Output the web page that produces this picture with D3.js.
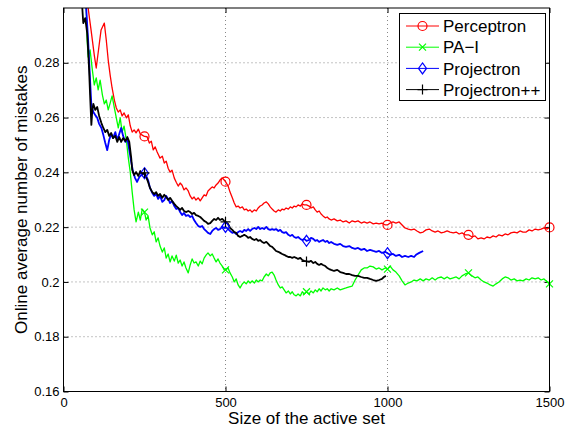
<!DOCTYPE html>
<html>
<head>
<meta charset="utf-8">
<script src="https://cdn.jsdelivr.net/npm/d3@7"></script>
<style>
  body { margin: 0; background: #fff; }
  svg { display: block; font-family: "Liberation Sans", Arial, Helvetica, sans-serif; }
</style>
</head>
<body>
<div id="chart"></div>
<script>
// values
var seriesNames = ["Perceptron", "PA\u2212I", "Projectron", "Projectron++"];
var seriesColors = ["#ff0000", "#00ff00", "#0000ff", "#000000"];
var markerX = [250, 500, 750, 1000, 1250, 1500];
var xTicks = [0, 500, 1000, 1500];
var yTicks = [0.16, 0.18, 0.2, 0.22, 0.24, 0.26, 0.28];

var perceptron = [
  [70,0.3029],[76,0.300],[85,0.292],[95,0.2828],[101,0.2781],[110,0.2865],[116,0.292],[126,0.2945],
  [132,0.2883],[138,0.281],[144,0.2755],[150,0.2708],[157,0.2664],[163,0.2635],[169,0.262],[175,0.2628],
  [181,0.2606],[187,0.2617],[194,0.2599],[200,0.261],[206,0.257],[212,0.2547],[218,0.2555],[224,0.2544],
  [231,0.2558],[237,0.254],[243,0.2536],[250,0.2531],[258,0.253],[265,0.2507],[271,0.2514],[277,0.2482],
  [283,0.2493],[289,0.2474],[298,0.2452],[305,0.2459],[311,0.2434],[317,0.2441],[323,0.2415],[329,0.2401],
  [335,0.2408],[342,0.2379],[348,0.2364],[354,0.235],[360,0.2361],[366,0.2353],[372,0.2336],[378,0.2343],
  [385,0.2332],[391,0.2314],[397,0.2303],[403,0.231],[409,0.2299],[416,0.2307],[422,0.2296],[428,0.2307],
  [434,0.2318],[440,0.2314],[446,0.2332],[453,0.234],[459,0.2347],[465,0.2343],[471,0.2354],[477,0.2361],
  [483,0.2372],[490,0.238],[496,0.2372],[500,0.2366],[508,0.235],[514,0.2328],[521,0.2307],[527,0.2288],
  [533,0.2274],[539,0.2277],[545,0.227],[552,0.2274],[558,0.2263],[564,0.2266],[570,0.2259],[576,0.2263],
  [582,0.2255],[589,0.2263],[595,0.2259],[601,0.227],[607,0.2277],[613,0.2281],[619,0.2288],[626,0.2292],
  [632,0.2285],[638,0.2274],[644,0.2266],[650,0.2259],[656,0.2255],[663,0.2263],[669,0.2259],[675,0.2266],
  [681,0.2263],[687,0.227],[694,0.2266],[700,0.2274],[706,0.227],[712,0.2277],[718,0.2274],[724,0.2281],
  [731,0.2277],[737,0.2285],[743,0.2281],[750,0.2281],[758,0.2277],[764,0.227],[771,0.2274],[777,0.2263],
  [783,0.2255],[789,0.2259],[795,0.2248],[801,0.2241],[808,0.2234],[814,0.2237],[820,0.223],[826,0.2226],
  [835,0.223],[845,0.2223],[854,0.2226],[863,0.2219],[872,0.2223],[882,0.2215],[891,0.2223],[900,0.2219],
  [909,0.2223],[919,0.2215],[928,0.2219],[937,0.2215],[946,0.2219],[956,0.2212],[965,0.2215],[974,0.2212],
  [983,0.2215],[993,0.2208],[1000,0.2208],[1008,0.2215],[1017,0.2219],[1026,0.2215],[1036,0.2219],[1045,0.2208],
  [1054,0.2197],[1064,0.2193],[1073,0.219],[1082,0.2193],[1091,0.2186],[1101,0.2179],[1110,0.2182],[1119,0.219],
  [1129,0.2193],[1138,0.2186],[1147,0.2182],[1156,0.2186],[1166,0.2179],[1175,0.2182],[1184,0.2186],[1193,0.2182],
  [1203,0.2179],[1212,0.2182],[1221,0.2175],[1230,0.2179],[1240,0.2172],[1250,0.2172],[1261,0.2164],[1270,0.2168],
  [1279,0.2157],[1289,0.2161],[1298,0.2157],[1307,0.2164],[1317,0.2161],[1326,0.2168],[1335,0.2164],[1344,0.2172],
  [1354,0.2168],[1363,0.2175],[1372,0.2172],[1381,0.2179],[1391,0.2182],[1400,0.2179],[1409,0.2186],[1418,0.2182],
  [1428,0.2182],[1437,0.219],[1446,0.2186],[1456,0.2193],[1465,0.219],[1474,0.2193],[1483,0.2197],[1493,0.2193],
  [1500,0.2199]
];

var paI = [
  [64,0.3029],[70,0.300],[73,0.2883],[76,0.2821],[82,0.2847],[89,0.2774],[95,0.2719],[101,0.2745],
  [107,0.2701],[113,0.2737],[120,0.2683],[126,0.265],[132,0.2664],[138,0.2628],[144,0.2653],[150,0.2679],
  [157,0.2635],[163,0.2599],[169,0.2562],[175,0.2599],[181,0.2547],[187,0.2569],[194,0.2518],[200,0.2453],
  [206,0.2401],[212,0.2328],[218,0.2263],[224,0.2219],[231,0.2255],[237,0.2226],[243,0.2266],[250,0.2255],
  [255,0.2226],[261,0.2241],[267,0.2197],[274,0.2172],[280,0.2183],[286,0.2146],[292,0.2161],[298,0.2131],
  [305,0.2109],[311,0.2124],[317,0.2087],[323,0.2102],[329,0.2073],[335,0.2095],[342,0.2076],[348,0.2098],
  [354,0.2069],[360,0.208],[366,0.2058],[372,0.2073],[378,0.2051],[385,0.2033],[391,0.2062],[397,0.2084],
  [403,0.2069],[409,0.2073],[416,0.2058],[422,0.2076],[428,0.2066],[434,0.2087],[440,0.2098],[446,0.2106],
  [453,0.2095],[459,0.2102],[465,0.2087],[471,0.2073],[477,0.2084],[483,0.2069],[490,0.2058],[496,0.2044],
  [500,0.2044],[508,0.2051],[514,0.2033],[521,0.2018],[527,0.2],[533,0.2011],[539,0.1989],[545,0.1978],
  [552,0.1993],[558,0.2],[564,0.1993],[570,0.2004],[576,0.1996],[582,0.2004],[589,0.1996],[595,0.2007],
  [601,0.2],[607,0.2007],[613,0.2004],[619,0.2018],[626,0.2029],[632,0.2022],[638,0.2033],[644,0.2036],
  [650,0.2025],[656,0.2007],[663,0.1989],[669,0.1978],[675,0.1982],[681,0.1971],[687,0.196],[694,0.1967],
  [700,0.1956],[706,0.1964],[712,0.1953],[718,0.1949],[724,0.1956],[731,0.1949],[737,0.1964],[743,0.1956],
  [750,0.1964],[758,0.1956],[764,0.1967],[771,0.196],[777,0.1971],[783,0.1964],[789,0.1975],[795,0.1967],
  [801,0.1978],[808,0.1971],[814,0.1975],[820,0.1967],[826,0.1975],[835,0.1971],[845,0.1978],[854,0.1971],
  [863,0.1975],[872,0.1978],[882,0.1982],[891,0.1985],[900,0.2007],[909,0.2025],[919,0.2044],[928,0.2051],
  [937,0.2051],[946,0.2058],[956,0.2055],[965,0.2047],[974,0.2051],[983,0.2044],[993,0.2051],[1000,0.2047],
  [1008,0.2058],[1017,0.2044],[1026,0.2036],[1036,0.2022],[1045,0.2004],[1054,0.1989],[1064,0.1996],[1073,0.2],
  [1082,0.2007],[1091,0.2004],[1101,0.2011],[1110,0.2004],[1119,0.2011],[1129,0.2007],[1138,0.2015],[1147,0.2007],
  [1156,0.2015],[1166,0.2018],[1175,0.2011],[1184,0.2018],[1193,0.2011],[1203,0.2015],[1212,0.2018],[1221,0.2011],
  [1230,0.2022],[1240,0.2029],[1250,0.2033],[1261,0.2022],[1270,0.2015],[1279,0.2018],[1289,0.2007],[1298,0.2],
  [1307,0.1996],[1317,0.1989],[1326,0.1985],[1335,0.1993],[1344,0.2],[1354,0.2011],[1363,0.2018],[1372,0.2015],
  [1381,0.2007],[1391,0.2011],[1400,0.2004],[1409,0.2007],[1418,0.2004],[1428,0.2011],[1437,0.2007],[1446,0.2015],
  [1456,0.2011],[1465,0.2015],[1474,0.2007],[1483,0.2011],[1493,0.2],[1500,0.1993]
];

var projectron = [
  [61,0.3029],[70,0.300],[76,0.2883],[82,0.2737],[86,0.2646],[92,0.262],[98,0.2609],[104,0.2599],
  [110,0.2577],[117,0.2562],[123,0.2536],[129,0.2507],[135,0.2481],[141,0.2518],[147,0.254],[153,0.2525],
  [160,0.2547],[166,0.2518],[172,0.254],[178,0.2562],[184,0.2533],[191,0.2511],[197,0.2525],[203,0.2481],
  [209,0.2438],[215,0.2401],[221,0.2379],[227,0.2365],[234,0.2383],[240,0.239],[250,0.2397],[255,0.2387],
  [261,0.2372],[267,0.2343],[274,0.2325],[280,0.2314],[286,0.2321],[292,0.2303],[298,0.2314],[305,0.2292],
  [311,0.2299],[317,0.2314],[323,0.2303],[329,0.2288],[335,0.2296],[342,0.2277],[348,0.2266],[354,0.227],
  [360,0.2255],[366,0.2244],[372,0.2252],[378,0.2241],[385,0.2244],[391,0.2237],[397,0.2241],[403,0.2226],
  [409,0.2215],[416,0.2204],[422,0.2201],[428,0.2204],[434,0.2193],[440,0.2186],[446,0.2179],[453,0.2175],
  [459,0.2186],[465,0.2193],[471,0.2197],[477,0.219],[483,0.2193],[490,0.2201],[496,0.2197],[500,0.2201],
  [508,0.2193],[514,0.2186],[521,0.2179],[527,0.2182],[533,0.2175],[539,0.2182],[545,0.2186],[552,0.2182],
  [558,0.219],[564,0.2186],[570,0.2193],[576,0.2186],[582,0.2193],[589,0.2197],[595,0.2193],[601,0.2201],
  [607,0.2193],[613,0.2197],[619,0.2193],[626,0.2201],[632,0.2193],[638,0.219],[644,0.2193],[650,0.219],
  [656,0.2193],[663,0.2186],[669,0.219],[675,0.2182],[681,0.2179],[687,0.2182],[694,0.2172],[700,0.2168],
  [706,0.2172],[712,0.2164],[718,0.2161],[724,0.2164],[731,0.2157],[737,0.2153],[743,0.2157],[750,0.215],
  [758,0.2153],[764,0.2161],[771,0.2157],[777,0.215],[783,0.2153],[789,0.2146],[795,0.215],[801,0.2153],
  [808,0.2146],[814,0.215],[820,0.2142],[826,0.2146],[835,0.2139],[845,0.2135],[854,0.2139],[863,0.2131],
  [872,0.2128],[882,0.2131],[891,0.2124],[900,0.2121],[909,0.2124],[919,0.2117],[928,0.2121],[937,0.2113],
  [946,0.2117],[956,0.2113],[965,0.211],[974,0.2113],[983,0.2106],[993,0.211],[1000,0.2105],[1008,0.2099],
  [1017,0.2102],[1026,0.2095],[1036,0.2099],[1045,0.2091],[1054,0.2095],[1064,0.2091],[1073,0.2095],[1082,0.2091],
  [1088,0.2099],[1098,0.2106],[1110,0.2113]
];

var projectronPP = [
  [52,0.3029],[58,0.300],[61,0.2945],[67,0.2963],[73,0.2909],[76,0.2847],[79,0.2774],[82,0.2683],
  [86,0.2573],[89,0.2628],[92,0.265],[98,0.2628],[104,0.2639],[110,0.2606],[117,0.258],[123,0.2562],
  [129,0.2547],[135,0.2555],[141,0.2533],[147,0.2544],[153,0.2525],[160,0.2533],[166,0.2511],[172,0.2529],
  [178,0.2511],[184,0.2525],[191,0.2514],[197,0.2529],[203,0.2511],[209,0.2453],[212,0.2409],[218,0.239],
  [224,0.2401],[231,0.2387],[237,0.2405],[243,0.2394],[250,0.2398],[255,0.2383],[261,0.2365],[267,0.2343],
  [274,0.2328],[280,0.2321],[286,0.2328],[292,0.2314],[298,0.2321],[305,0.2307],[311,0.2318],[317,0.231],
  [323,0.2299],[329,0.2307],[335,0.2296],[342,0.2285],[348,0.2277],[354,0.227],[360,0.2263],[366,0.227],
  [372,0.2259],[378,0.2255],[385,0.2259],[391,0.2255],[397,0.2248],[403,0.2252],[409,0.2244],[416,0.2241],
  [422,0.2237],[428,0.223],[434,0.2223],[440,0.2219],[446,0.2212],[453,0.2215],[459,0.2223],[465,0.223],
  [471,0.2226],[477,0.2234],[483,0.2226],[490,0.223],[496,0.2223],[500,0.2219],[508,0.2212],[514,0.2197],
  [521,0.219],[527,0.2182],[533,0.2179],[539,0.2168],[545,0.2164],[552,0.2168],[558,0.2172],[564,0.2168],
  [570,0.2161],[576,0.2164],[582,0.2157],[589,0.2153],[595,0.2157],[601,0.215],[607,0.2153],[613,0.2146],
  [619,0.2142],[626,0.2146],[632,0.2139],[638,0.2131],[644,0.2128],[650,0.2121],[656,0.2113],[663,0.211],
  [669,0.2106],[675,0.2102],[681,0.2099],[687,0.2095],[694,0.2091],[700,0.2091],[706,0.2088],[712,0.2091],
  [718,0.2088],[724,0.2084],[731,0.2088],[737,0.208],[743,0.2077],[750,0.2075],[758,0.2073],[764,0.2077],
  [771,0.2069],[777,0.2073],[783,0.2066],[789,0.2062],[795,0.2066],[801,0.2062],[808,0.2058],[814,0.2051],
  [820,0.2047],[826,0.2044],[835,0.204],[845,0.2044],[854,0.2036],[863,0.2033],[872,0.2029],[882,0.2029],
  [891,0.2025],[900,0.2022],[909,0.2022],[919,0.2018],[928,0.2015],[937,0.2015],[946,0.2011],[956,0.2007],
  [965,0.2004],[974,0.2007],[983,0.2011],[989,0.2018],[995,0.2022]
];

var allSeries = [perceptron, paI, projectron, projectronPP];
var markerTypes = ["circle", "cross", "diamond", "plus"];
var lineWidths = [1.3, 1.3, 1.8, 1.8];

var svgW = 566, svgH = 430;
var margin = {top: 8, right: 16.5, bottom: 38.5, left: 63.5};
var width = svgW - margin.left - margin.right,
    height = svgH - margin.top - margin.bottom;

var svg = d3.select("#chart").append("svg")
    .attr("width", svgW)
    .attr("height", svgH);

var g = svg.append("g")
    .attr("transform", "translate(" + margin.left + "," + margin.top + ")");

var x = d3.scaleLinear().domain([0, 1500]).range([0, width]);
var y = d3.scaleLinear().domain([0.16, 0.30]).range([height, 0]);

g.append("clipPath").attr("id", "clip")
    .append("rect").attr("width", width).attr("height", height);

// dotted grid
g.selectAll(".gx").data(xTicks.slice(1, -1)).join("line")
    .attr("x1", function (d) { return x(d); }).attr("x2", function (d) { return x(d); })
    .attr("y1", 0).attr("y2", height)
    .attr("stroke", "#888").attr("stroke-dasharray", "1,3");
g.selectAll(".gy").data(yTicks.slice(1)).join("line")
    .attr("y1", function (d) { return y(d); }).attr("y2", function (d) { return y(d); })
    .attr("x1", 0).attr("x2", width)
    .attr("stroke", "#888").attr("stroke-dasharray", "1,3");

function fmt(d) { return String(+d.toFixed(2)); }

// axes, ticks pointing inward like matlab
var xAxis = g.append("g").attr("transform", "translate(0," + height + ")")
    .call(d3.axisBottom(x).tickValues(xTicks).tickSizeInner(-5).tickSizeOuter(0).tickPadding(6).tickFormat(fmt));
var xAxisTop = g.append("g")
    .call(d3.axisTop(x).tickValues(xTicks).tickSizeInner(-5).tickSizeOuter(0).tickFormat(""));
var yAxis = g.append("g")
    .call(d3.axisLeft(y).tickValues(yTicks).tickSizeInner(-5).tickSizeOuter(0).tickPadding(4).tickFormat(fmt));
var yAxisRight = g.append("g").attr("transform", "translate(" + width + ",0)")
    .call(d3.axisRight(y).tickValues(yTicks).tickSizeInner(-5).tickSizeOuter(0).tickFormat(""));

[xAxis, xAxisTop, yAxis, yAxisRight].forEach(function (a) {
    a.select(".domain").remove();
    a.selectAll("text").attr("font-family", "Liberation Sans, Arial, sans-serif")
        .attr("font-size", "13px").attr("fill", "#000");
});

var line = d3.line()
    .x(function (d) { return x(d[0]); })
    .y(function (d) { return y(d[1]); });

var plot = g.append("g").attr("clip-path", "url(#clip)");
allSeries.forEach(function (s, i) {
    plot.append("path")
        .datum(s)
        .attr("fill", "none")
        .attr("stroke", seriesColors[i])
        .attr("stroke-width", lineWidths[i])
        .attr("stroke-linejoin", "round")
        .attr("d", line);
});

function drawMarker(sel, type, color, cx, cy) {
    var m;
    if (type === "circle") {
        m = sel.append("circle").attr("cx", cx).attr("cy", cy).attr("r", 4.5);
    } else if (type === "cross") {
        m = sel.append("path").attr("d", "M" + (cx - 3.5) + "," + (cy - 3.5) + "L" + (cx + 3.5) + "," + (cy + 3.5) +
            "M" + (cx - 3.5) + "," + (cy + 3.5) + "L" + (cx + 3.5) + "," + (cy - 3.5));
    } else if (type === "diamond") {
        m = sel.append("path").attr("d", "M" + cx + "," + (cy - 5.5) + "L" + (cx + 4) + "," + cy +
            "L" + cx + "," + (cy + 5.5) + "L" + (cx - 4) + "," + cy + "Z");
    } else {
        m = sel.append("path").attr("d", "M" + (cx - 5) + "," + cy + "L" + (cx + 5) + "," + cy +
            "M" + cx + "," + (cy - 5) + "L" + cx + "," + (cy + 5));
    }
    m.attr("fill", "none").attr("stroke", color).attr("stroke-width", 1.2);
}

allSeries.forEach(function (s, i) {
    s.filter(function (d) { return markerX.indexOf(d[0]) >= 0; }).forEach(function (d) {
        drawMarker(g, markerTypes[i], seriesColors[i], x(d[0]), y(d[1]));
    });
});

// axes box
g.append("rect").attr("width", width).attr("height", height)
    .attr("fill", "none").attr("stroke", "#000").attr("stroke-width", 1);

// axis labels
svg.append("text")
    .attr("x", margin.left + width / 2).attr("y", 424)
    .attr("text-anchor", "middle").attr("font-size", "17px")
    .text("Size of the active set");
svg.append("text")
    .attr("transform", "translate(27," + (margin.top + height / 2) + ") rotate(-90)")
    .attr("text-anchor", "middle").attr("font-size", "17px")
    .text("Online average number of mistakes");

// legend
var lg = svg.append("g");
lg.append("rect").attr("x", 399.5).attr("y", 13.5).attr("width", 146).attr("height", 87)
    .attr("fill", "#fff").attr("stroke", "#000").attr("stroke-width", 1);
seriesNames.forEach(function (name, i) {
    var ly = 26 + i * 21.2;
    lg.append("line").attr("x1", 406).attr("x2", 439).attr("y1", ly).attr("y2", ly)
        .attr("stroke", seriesColors[i]).attr("stroke-width", 1);
    drawMarker(lg, markerTypes[i], seriesColors[i], 422.5, ly);
    lg.append("text").attr("x", 443).attr("y", ly).attr("dy", "0.36em")
        .attr("font-size", "17px").text(name);
});
</script>
</body>
</html>
